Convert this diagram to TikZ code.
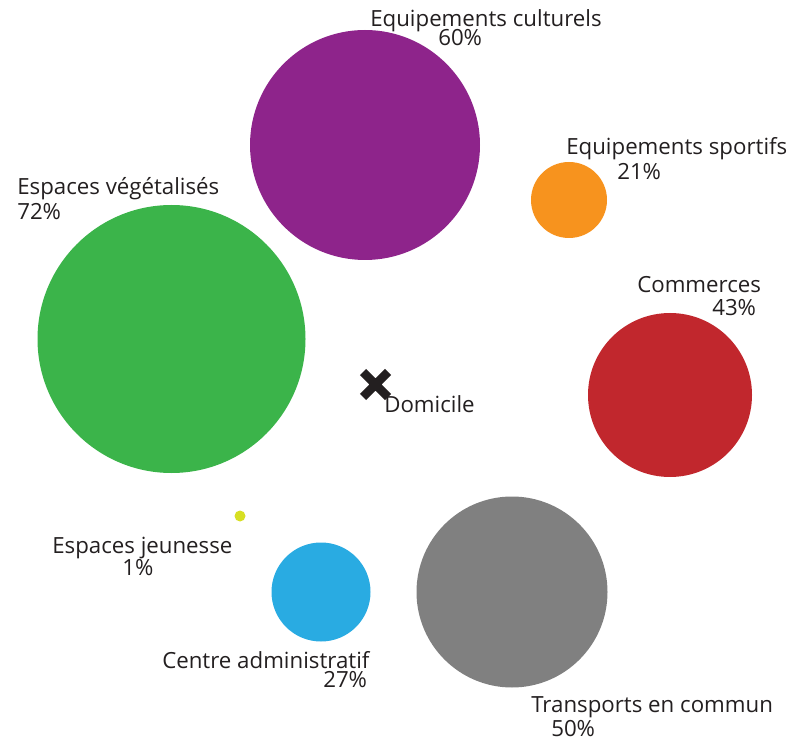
\documentclass[tikz,border=0pt]{standalone}
\usepackage{fontspec}
\setmainfont{Open Sans}
\definecolor{culture}{HTML}{8E248B}
\definecolor{sport}{HTML}{F7931E}
\definecolor{vert}{HTML}{3BB44A}
\definecolor{commerce}{HTML}{C1272D}
\definecolor{jeune}{HTML}{D7DF23}
\definecolor{admin}{HTML}{29ABE2}
\definecolor{transport}{HTML}{808080}
\definecolor{ink}{HTML}{231F20}
\def\px{0.75pt}

\begin{document}
\begin{tikzpicture}[%
	x=\px, y=-\px,%
	label/.style ={inner sep=0pt, anchor=base west, font=\fontsize{16.7}{20}\selectfont, text=ink},%
	]
\useasboundingbox (0,0) rectangle (789,741);
%%% circles
	\fill [culture] (365,145) circle (115);
	\fill [sport] (569,200) circle (38);
	\fill [vert] (171.5,339) circle (134);
	\fill [commerce] (670,395) circle (82);
	\fill [jeune] (240,516) circle (5.5);
	\fill [admin] (321,592) circle (49.5);
	\fill [transport] (512,592) circle (95.5);
%%% circles
%%% home
	\draw [ink, line width=6.5pt] (363,372) -- (388,397) (388,372) -- (363,397);
	\node [label] (domicile) at (384,413) {Domicile};
%%% home
%%% labels
	\node [label] (culturels) at (370,27) {Equipements culturels};
	\node [label] (culturels pct) at (438,46) {60\%};
	\node [label] (sportifs) at (566,155) {Equipements sportifs};
	\node [label] (sportifs pct) at (617,180) {21\%};
	\node [label] (vegetal) at (17,195) {Espaces végétalisés};
	\node [label] (vegetal pct) at (17,220) {72\%};
	\node [label] (commerces) at (637,293) {Commerces};
	\node [label] (commerces pct) at (712,316) {43\%};
	\node [label] (jeunesse) at (52,553) {Espaces jeunesse};
	\node [label] (jeunesse pct) at (122,575) {1\%};
	\node [label] (admin) at (162,668) {Centre administratif};
	\node [label] (admin pct) at (323,687) {27\%};
	\node [label] (transports) at (531,712) {Transports en commun};
	\node [label] (transports pct) at (551,736) {50\%};
%%% labels
\end{tikzpicture}
\end{document}
